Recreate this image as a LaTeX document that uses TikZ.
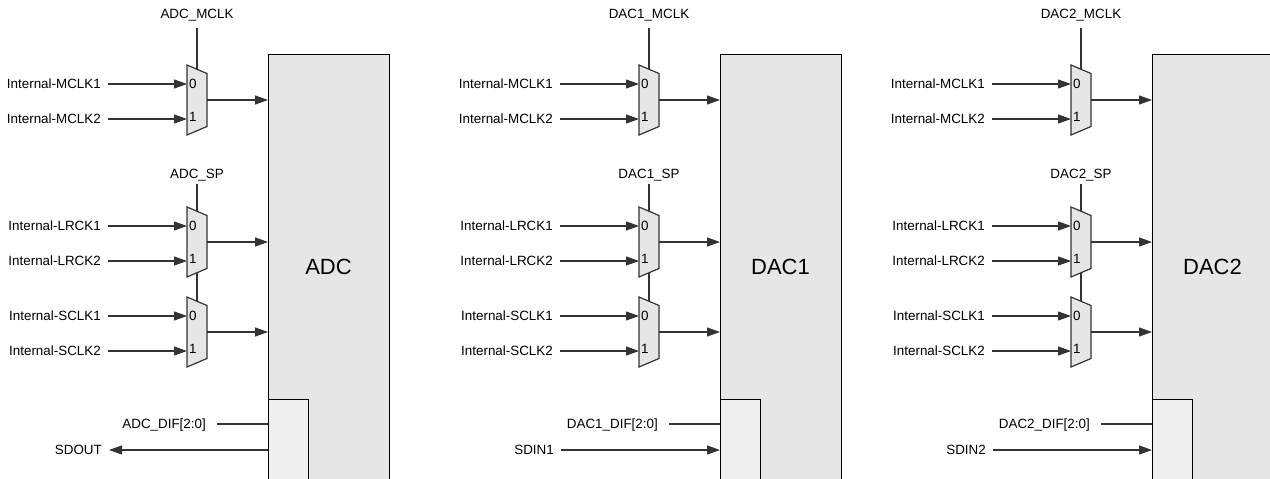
\documentclass[tikz,border=0pt]{standalone}
\usepackage{fontspec}
\setmainfont{Liberation Sans}
\usetikzlibrary{arrows.meta,positioning}

\definecolor{boxgray}{HTML}{E6E6E6}
\definecolor{difgray}{HTML}{EFEFEF}
\definecolor{wiregray}{HTML}{333333}

\tikzset{
  wire/.style={draw=wiregray, line width=1.2pt},
  sig/.style={wire, -{Triangle[length=13pt,width=9pt]}},
  lbl/.style={font=\fontsize{13.4}{16}\selectfont, text height=9.6pt, text depth=0pt, inner ysep=0pt, inner xsep=7pt},
  blk/.style={draw=black, line width=1.1pt, inner sep=0pt, anchor=north west},
  mux/.pic={
    \draw[wire, fill=boxgray] (-10,-35) -- (10,-26.5) -- (10,26.5) -- (-10,35) -- cycle;
    \node[lbl, anchor=west, inner xsep=2pt] (-n0) at (-10,-16.5) {0};
    \node[lbl, anchor=west, inner xsep=2pt] (-n1) at (-10,17) {1};
    \coordinate (-in0) at (-10,-16);
    \coordinate (-in1) at (-10,19);
    \coordinate (-out) at (10,0);
    \coordinate (-top) at (0,-30.75);
    \coordinate (-bot) at (0,30.75);
  }
}

\begin{document}
\begin{tikzpicture}[x=1pt,y=-1pt]
  \useasboundingbox (0,0) rectangle (1270,479);
  \clip (0,0) rectangle (1270,479);

  \foreach \dx/\nm/\io/\dir in {0/ADC/SDOUT/1, 452/DAC1/SDIN1/0, 884/DAC2/SDIN2/0}{
    \begin{scope}[xshift=\dx pt]
      % block, runs off the bottom of the page
      \node[blk, fill=boxgray, minimum width=121pt, minimum height=440pt] (\nm) at (268,54) {};
      \node[font=\fontsize{22}{26}\selectfont] (\nm-name) at (328.5,267) {\nm};
      \node[blk, fill=difgray, minimum width=40pt, minimum height=100pt] (\nm-dif) at (268,399) {};

      % muxes
      \pic (\nm-m1) at (197,100) {mux};
      \pic (\nm-m2) at (197,242) {mux};
      \pic (\nm-m3) at (197,332) {mux};

      % select lines
      \coordinate (\nm-s1) at (197,28);
      \coordinate (\nm-s2) at (197,184);
      \node[lbl, inner sep=0pt, above=9.5pt of \nm-s1] (\nm-mclk) {\nm\_MCLK};
      \node[lbl, inner sep=0pt, above=5.5pt of \nm-s2] (\nm-sp) {\nm\_SP};
      \draw[wire] (\nm-s1) -- (\nm-m1-top);
      \draw[wire] (\nm-s2) -- (\nm-m2-top);
      \draw[wire] (\nm-m2-bot) -- (\nm-m3-top);

      % inputs and outputs
      \foreach \m/\a/\b in {m1/MCLK1/MCLK2, m2/LRCK1/LRCK2, m3/SCLK1/SCLK2}{
        \node[lbl, left=79pt of \nm-\m-in0] (\nm-\a) {Internal-\a};
        \node[lbl, left=79pt of \nm-\m-in1] (\nm-\b) {Internal-\b};
        \draw[sig] (\nm-\a) -- (\nm-\m-in0);
        \draw[sig] (\nm-\b) -- (\nm-\m-in1);
        \draw[sig] (\nm-\m-out) -- (\nm-\m-out -| \nm.west);
      }

      % format and data
      \node[lbl, anchor=east, inner xsep=11pt] (\nm-difl) at (217,424) {\nm\_DIF[2:0]};
      \draw[wire] (\nm-difl) -- (\nm-difl -| \nm.west);
      \node[lbl, anchor=east] (\nm-io) at (109,450) {\io};
      \ifnum\dir=1
        \draw[sig] (\nm-io -| \nm.west) -- (\nm-io);
      \else
        \draw[sig] (\nm-io) -- (\nm-io -| \nm.west);
      \fi
    \end{scope}
  }
\end{tikzpicture}
\end{document}
